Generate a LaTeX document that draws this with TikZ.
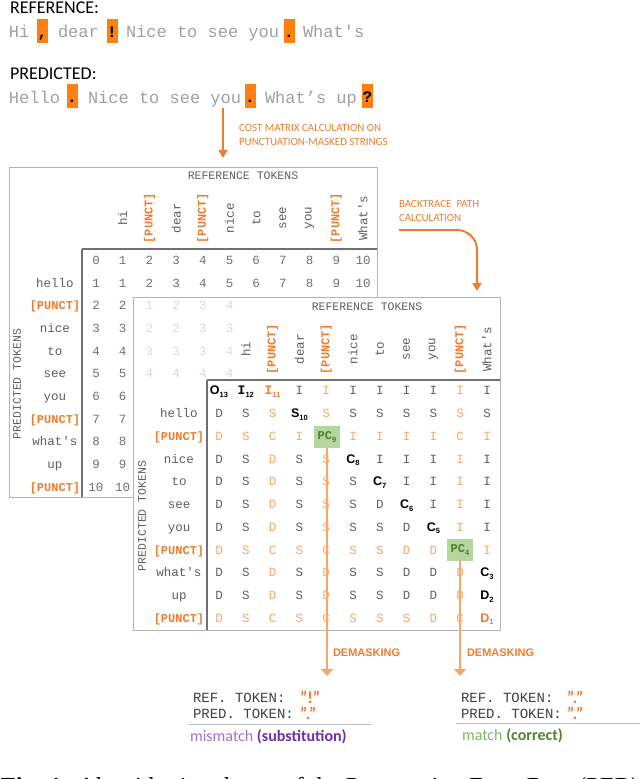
\documentclass[tikz,border=0pt]{standalone}
\usepackage{fontspec}
\setmainfont{Liberation Serif}
\setsansfont{Liberation Sans}
\setmonofont{Liberation Mono}
\newfontfamily\calib{Carlito}
\usetikzlibrary{arrows.meta}
\definecolor{orgA}{HTML}{ED7D31}
\definecolor{orgBox}{HTML}{FF7F10}
\definecolor{orgL}{HTML}{F6A86C}
\definecolor{sentG}{HTML}{A0A0A0}
\definecolor{numG}{HTML}{707070}
\definecolor{cellG}{HTML}{606060}
\definecolor{labG}{HTML}{5E5E5E}
\definecolor{fadeG}{HTML}{DADADA}
\definecolor{frameG}{HTML}{B4B4B4}
\definecolor{innerG}{HTML}{707070}
\definecolor{pcFill}{HTML}{B5D69E}
\definecolor{pcTxt}{HTML}{4E7F2A}
\definecolor{purL}{HTML}{A072C8}
\definecolor{purD}{HTML}{7030A0}
\definecolor{grnL}{HTML}{86B466}
\definecolor{grnD}{HTML}{548235}
\definecolor{tokG}{HTML}{404040}
\newcommand\fs[1]{\fontsize{#1}{#1}\selectfont}
\newcommand\subx[1]{\raisebox{-2.5pt}{\fontsize{7.5}{8}\selectfont\sffamily\bfseries #1}}
\begin{document}
\begin{tikzpicture}[x=1pt,y=-1pt,
  every node/.style={inner sep=0pt,outer sep=0pt},
  sent/.style={anchor=base west,font=\ttfamily\fs{17},text=sentG},
  ttitle/.style={anchor=base west,font=\calib\fs{18},text=black},
  pbox/.style={fill=orgBox,minimum width=11,minimum height=24,font=\ttfamily\bfseries\fs{16},text height=14,text depth=1},
  orglab/.style={anchor=west,font=\calib\fontsize{11}{13.5}\selectfont,text=orgA,align=left},
  cbase/.style={anchor=base,font=\ttfamily\fs{12.5}},
  celln/.style={cbase,text=cellG},
  cello/.style={cbase,text=orgL},
  cellx/.style={cbase},
  numst/.style={cbase,text=numG},
  fadest/.style={cbase,text=fadeG},
  rowln/.style={cbase,text=labG},
  rowlp/.style={anchor=base,font=\ttfamily\bfseries\fs{12},text=orgA},
  hdn/.style={rotate=90,font=\ttfamily\fs{12.5},text=labG},
  hdp/.style={rotate=90,font=\ttfamily\bfseries\fs{12},text=orgA},
  axlab/.style={font=\ttfamily\fs{11.5},text=labG},
  spec/.style={anchor=base,font=\sffamily\bfseries\fs{12.5},text=black},
  pcbox/.style={fill=pcFill,minimum width=26,minimum height=22,font=\ttfamily\bfseries\fs{12},text=pcTxt},
  frame/.style={draw=frameG,line width=1},
  inner/.style={draw=innerG,line width=1.4},
  bigarrow/.style={draw=orgA,line width=2,-{Triangle[width=9pt,length=8pt]}},
  demask/.style={draw=orgL,line width=1.6,-{Triangle[width=12pt,length=7pt]}},
  dmlab/.style={anchor=west,font=\sffamily\bfseries\fs{11},text=orgA},
  tok/.style={anchor=base west,font=\ttfamily\fs{14},text=tokG},
  quo/.style={anchor=base west,font=\calib\bfseries\fs{17},text=orgA},
  res/.style={anchor=base west,font=\calib\fs{16}}
]
\useasboundingbox (0,0) rectangle (640,779);

% ---------- top sentences ----------
\node[ttitle] (reflab) at (10,13.5) {REFERENCE:};
\node[ttitle] (predlab) at (10,79) {PREDICTED:};

\node[sent] (r1) at (9,37) {Hi};
\node[pbox] (rp1) at (42.5,31) {,};
\node[sent] (r2) at (58,37) {dear};
\node[pbox] (rp2) at (112,31) {!};
\node[sent] (r3) at (126,37) {Nice to see you};
\node[pbox] (rp3) at (289,31) {.};
\node[sent] (r4) at (303,37) {What's};

\node[sent] (s1) at (9,103) {Hello};
\node[pbox] (sp1) at (72,95.5) {.};
\node[sent] (s2) at (88,103) {Nice to see you};
\node[pbox] (sp2) at (250,95.5) {.};
\node[sent] (s3) at (265,103) {What’s up};
\node[pbox] (sp3) at (367.5,95.5) {?};

% ---------- arrow 1 ----------
\coordinate (a1s) at (223,108);
\coordinate (a1e) at (223,158);
\draw[bigarrow] (a1s) -- (a1e);
\node[orglab] (costlab) at (239,135) {COST MATRIX CALCULATION ON\\PUNCTUATION-MASKED STRINGS};

% ---------- backtrace arrow ----------
\node[orglab] (btlab) at (399,211) {BACKTRACE\ \ PATH\\CALCULATION};
\coordinate (bt1) at (399,230);
\coordinate (bt2) at (477,291);
\draw[bigarrow,rounded corners=20] (bt1) -| (bt2);

% ---------- matrix 1 ----------
\draw[frame] (9,167) rectangle (377,497);
\draw[inner] (82,249) -- (377,249);
\draw[inner] (82,249) -- (82,497);
\node[axlab] (m1ref) at (243,176) {REFERENCE TOKENS};
\node[axlab,rotate=90] (m1pred) at (17,384) {PREDICTED TOKENS};

\foreach \s/\t [count=\i from 1] in {n/hi,p/{[PUNCT]},n/dear,p/{[PUNCT]},n/nice,n/to,n/see,n/you,p/{[PUNCT]},n/What's}
  \node[hd\s] (m1h-\i) at ({96+26.7*\i},218) {\t};

\foreach \s/\t [count=\j from 1] in {n/hello,p/{[PUNCT]},n/nice,n/to,n/see,n/you,p/{[PUNCT]},n/what's,n/up,p/{[PUNCT]}}
  \node[rowl\s] (m1r-\j) at (55,{260.5+22.7*\j+3.8}) {\t};

\foreach \v [count=\i from 0] in {0,1,2,3,4,5,6,7,8,9,10}
  \node[numst] (m1-0-\i) at ({96+26.7*\i},{260.5+3.8}) {\v};
\foreach \v [count=\i from 0] in {1,1,2,3,4,5,6,7,8,9,10}
  \node[numst] (m1-1-\i) at ({96+26.7*\i},{260.5+22.7+3.8}) {\v};
\foreach \j in {2,...,10}{
  \node[numst] (m1-\j-0) at (96,{260.5+22.7*\j+3.8}) {\j};
  \node[numst] (m1-\j-1) at (122.7,{260.5+22.7*\j+3.8}) {\j};
}

% ---------- matrix 2 ----------
\draw[frame,fill=white] (133,297) rectangle (500,630);
\draw[inner] (207,380) -- (500,380);
\draw[inner] (207,380) -- (207,630);

% faded numbers of matrix 1 seen through
\foreach \row [count=\j from 2] in {{1,2,3,4},{2,2,3,3},{3,3,3,4},{4,4,4,4}}{
  \foreach \v [count=\i from 2] in \row
    \node[fadest] (m1f-\j-\i) at ({96+26.7*\i},{260.5+22.7*\j+3.8}) {\v};
}

\node[axlab] (m2ref) at (367,307) {REFERENCE TOKENS};
\node[axlab,rotate=90] (m2pred) at (142,516) {PREDICTED TOKENS};

\foreach \s/\t [count=\i from 1] in {n/hi,p/{[PUNCT]},n/dear,p/{[PUNCT]},n/nice,n/to,n/see,n/you,p/{[PUNCT]},n/What's}
  \node[hd\s] (m2h-\i) at ({219+26.8*\i},349) {\t};

\foreach \s/\t [count=\j from 1] in {n/hello,p/{[PUNCT]},n/nice,n/to,n/see,n/you,p/{[PUNCT]},n/what's,n/up,p/{[PUNCT]}}
  \node[rowl\s] (m2r-\j) at (179,{391+22.75*\j+3.8}) {\t};

\foreach \row [count=\j from 0] in {
 {x/{},x/{},x/{},n/I,o/I,n/I,n/I,n/I,n/I,o/I,n/I},
 {n/D,n/S,o/S,x/{},o/S,n/S,n/S,n/S,n/S,o/S,n/S},
 {o/D,o/S,o/C,o/I,x/{},o/I,o/I,o/I,o/I,o/C,o/I},
 {n/D,n/S,o/D,n/S,o/S,x/{},n/I,n/I,n/I,o/I,n/I},
 {n/D,n/S,o/D,n/S,o/S,n/S,x/{},n/I,n/I,o/I,n/I},
 {n/D,n/S,o/D,n/S,o/S,n/S,n/D,x/{},n/I,o/I,n/I},
 {n/D,n/S,o/D,n/S,o/S,n/S,n/S,n/D,x/{},o/I,n/I},
 {o/D,o/S,o/C,o/S,o/C,o/S,o/S,o/D,o/D,x/{},o/I},
 {n/D,n/S,o/D,n/S,o/D,n/S,n/S,n/D,n/D,o/D,x/{}},
 {n/D,n/S,o/D,n/S,o/D,n/S,n/S,n/D,n/D,o/D,x/{}},
 {o/D,o/S,o/C,o/S,o/C,o/S,o/S,o/S,o/D,o/C,x/{}}}{
  \foreach \c/\t [count=\i from 0] in \row
    \node[cell\c] (m2-\j-\i) at ({219+26.8*\i},{391+22.75*\j+3.8}) {\t};
}

% special cells on the backtrace path
\node[spec] (b0) at (219,394.8) {O\subx{13}};
\node[spec,font=\ttfamily\bfseries\fs{13}] (b1) at (245.8,394.8) {I\subx{12}};
\node[spec,font=\ttfamily\bfseries\fs{13},text=orgA] (b2) at (272.6,394.8) {I\subx{11}};
\node[spec] (b3) at (299.4,{391+22.75+3.8}) {S\subx{10}};
\node[pcbox] (pc9) at (327,437) {PC\subx{9}};
\node[spec] (b5) at (353,{391+22.75*3+3.8}) {C\subx{8}};
\node[spec] (b6) at (379.8,{391+22.75*4+3.8}) {C\subx{7}};
\node[spec] (b7) at (406.6,{391+22.75*5+3.8}) {C\subx{6}};
\node[spec] (b8) at (433.4,{391+22.75*6+3.8}) {C\subx{5}};
\node[pcbox] (pc4) at (460,550) {PC\subx{4}};
\node[spec] (b10) at (487,{391+22.75*8+3.8}) {C\subx{3}};
\node[spec] (b11) at (487,{391+22.75*9+3.8}) {D\subx{2}};
\node[spec,text=orgA] (b12) at (487,{391+22.75*10+3.8}) {D\subx{1}};

% ---------- demasking arrows ----------
\coordinate (dm1) at (327,676);
\coordinate (dm2) at (460,676);
\draw[demask] (pc9.south) -- (dm1);
\draw[demask] (pc4.south) -- (dm2);
\node[dmlab] (dml1) at (333,653) {DEMASKING};
\node[dmlab] (dml2) at (467,653) {DEMASKING};

% ---------- results ----------
\node[tok] (t1a) at (193,702) {REF. TOKEN:};
\node[quo] (t1b) at (300,703) {”!”};
\node[tok] (t1c) at (193,718) {PRED. TOKEN:};
\node[quo] (t1d) at (300,719) {”.”};
\coordinate (l1a) at (188,724);
\coordinate (l1b) at (372,724);
\draw[draw=frameG!80,line width=1] (l1a) -- (l1b);
\node[res] (t1e) at (190,741) {\textcolor{purL}{mismatch} \textcolor{purD}{\bfseries(substitution)}};

\node[tok] (t2a) at (461,702) {REF. TOKEN:};
\node[quo] (t2b) at (567,703) {”.”};
\node[tok] (t2c) at (461,718) {PRED. TOKEN:};
\node[quo] (t2d) at (567,719) {”.”};
\coordinate (l2a) at (456,723);
\coordinate (l2b) at (640,723);
\draw[draw=frameG!80,line width=1] (l2a) -- (l2b);
\node[res] (t2e) at (462,740) {\textcolor{grnL}{match} \textcolor{grnD}{\bfseries(correct)}};

% ---------- caption (cut off by the lower edge, as in the reference) ----------
\node[anchor=base west,font=\fs{24.5}] (cap) at (1,794) {\textbf{Fig. 1:} Algorithmic scheme of the Punctuation Error Rate (PER)};
\end{tikzpicture}
\end{document}
